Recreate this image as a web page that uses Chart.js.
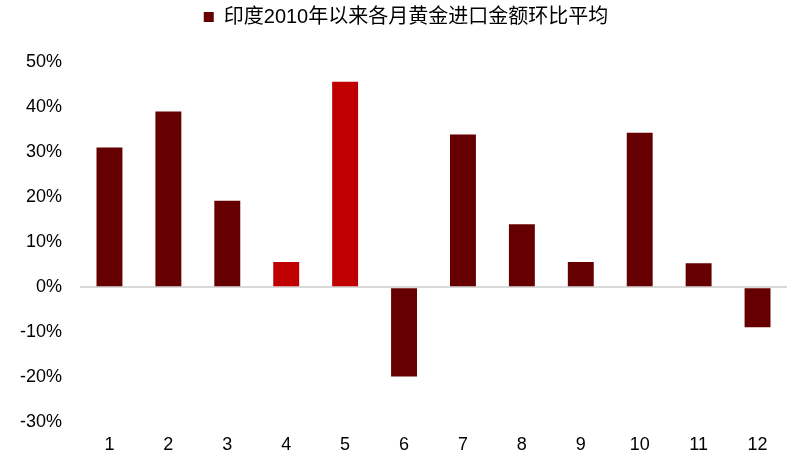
<!DOCTYPE html>
<html>
<head>
<meta charset="utf-8">
<script src="https://cdn.jsdelivr.net/npm/chart.js@4"></script>
<style>
  html, body { margin: 0; padding: 0; background: #fff; }
  #wrap { width: 800px; height: 473px; }
</style>
</head>
<body>
<div id="wrap"><canvas id="chart"></canvas></div>
<script>
const months = ["1", "2", "3", "4", "5", "6", "7", "8", "9", "10", "11", "12"];
const avgMoM = [31.0, 39.0, 19.2, 5.6, 45.6, -19.8, 33.9, 14.0, 5.6, 34.3, 5.3, -8.9];
const highlight = [4, 5];
const seriesName = "印度2010年以来各月黄金进口金额环比平均";

const dark = "#660000";
const bright = "#c00000";
const font = "'Liberation Sans', 'Noto Sans CJK SC', Arial, sans-serif";

const barColors = months.map(m => highlight.includes(Number(m)) ? bright : dark);

const ctx = document.getElementById("chart").getContext("2d");
const chart = new Chart(ctx, {
  type: "bar",
  data: {
    labels: months,
    datasets: [
      {
        label: seriesName,
        data: avgMoM,
        backgroundColor: barColors,
        xAxisID: "x",
        yAxisID: "y",
        categoryPercentage: 1,
        barPercentage: 0.44
      }
    ]
  },
  options: {
    responsive: true,
    maintainAspectRatio: false,
    animation: false,
    layout: { padding: { top: 0, right: 0, bottom: 13, left: 12 } },
    plugins: {
      tooltip: { enabled: false },
      legend: {
        position: "top",
        labels: {
          font: { family: font, size: 20 },
          color: "#000",
          boxWidth: 10,
          boxHeight: 10,
          padding: 7,
          generateLabels: () => [{ text: seriesName, fillStyle: dark, strokeStyle: dark, lineWidth: 0 }]
        }
      }
    },
    scales: {
      x: {
        grid: { display: false },
        border: { display: false },
        ticks: { font: { family: font, size: 18 }, color: "#000", padding: 4 }
      },
      y: {
        min: -30,
        max: 50,
        afterFit: s => { s.width = 68; },
        border: { display: false },
        grid: {
          drawTicks: false,
          lineWidth: 2,
          color: c => c.tick && c.tick.value === 0 ? "#d9d9d9" : "rgba(0,0,0,0)"
        },
        ticks: {
          stepSize: 10,
          font: { family: font, size: 18 },
          color: "#000",
          padding: 18,
          callback: v => v + "%"
        }
      },
      // empty spacers so the plot sits where it does in the original
      top: {
        position: "top",
        type: "category",
        labels: [""],
        grid: { display: false },
        border: { display: false },
        ticks: { display: false },
        afterFit: s => { s.height = 25; }
      },
      right: {
        position: "right",
        type: "linear",
        grid: { display: false },
        border: { display: false },
        ticks: { display: false },
        afterFit: s => { s.width = 13; }
      }
    }
  }
});
</script>
</body>
</html>
